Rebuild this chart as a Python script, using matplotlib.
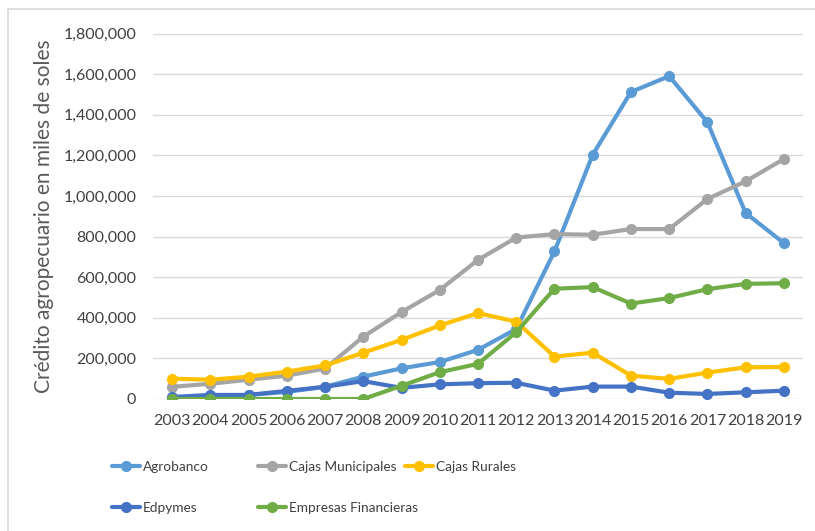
import matplotlib
matplotlib.use("Agg")
import matplotlib.pyplot as plt
from matplotlib.lines import Line2D
from matplotlib.ticker import FuncFormatter

years = [str(y) for y in range(2003, 2020)]

agrobanco = [5000, 15000, 20000, 35000, 60000, 110000, 151000, 182000, 242000, 345000,
             727000, 1203000, 1512000, 1590000, 1363000, 916000, 768000]
cajas_municipales = [60000, 75000, 95000, 115000, 150000, 307000, 428000, 537000, 685000, 795000,
                     812000, 809000, 837000, 837000, 985000, 1072000, 1182000]
cajas_rurales = [100000, 95000, 110000, 135000, 165000, 228000, 291000, 362000, 423000, 381000,
                 209000, 228000, 115000, 99000, 130000, 156000, 158000]
edpymes = [10000, 20000, 20000, 40000, 60000, 88000, 55000, 72000, 78000, 80000,
           41000, 61000, 61000, 31000, 25000, 33000, 41000]
empresas_financieras = [0, 0, 0, 0, 0, 0, 65000, 132000, 173000, 329000,
                        543000, 551000, 470000, 497000, 541000, 567000, 570000]

series = [
    ("Agrobanco", agrobanco, "#5B9BD5"),
    ("Cajas Municipales", cajas_municipales, "#A5A5A5"),
    ("Cajas Rurales", cajas_rurales, "#FFC000"),
    ("Edpymes", edpymes, "#4472C4"),
    ("Empresas Financieras", empresas_financieras, "#70AD47"),
]

plt.rcParams['font.family'] = ['Lato', 'DejaVu Sans']

fig = plt.figure(figsize=(8.15, 5.31), dpi=100)
ax = fig.add_axes([153/815, 1-399/531, 650/815, (399-33.5)/531])

x = list(range(len(years)))
handles = []
for name, vals, col in series:
    ax.plot(x, vals, color=col, lw=3.0, marker='o', markersize=7, zorder=3,
            solid_capstyle='round', solid_joinstyle='round')
    handles.append(Line2D([0], [0], color=col, lw=3.0, marker='o', markersize=7,
                          solid_capstyle='round', label=name))

ax.set_xlim(-0.5, len(years) - 0.5)
ax.set_ylim(0, 1800000)
ax.set_yticks(range(0, 1800001, 200000))
ax.yaxis.set_major_formatter(FuncFormatter(lambda v, p: f"{int(v):,}"))
ax.set_xticks(x)
ax.set_xticklabels(years)
ax.grid(axis='y', color='#D9D9D9', lw=1.0, zorder=0)
for s in ax.spines.values():
    s.set_visible(False)
ax.tick_params(axis='both', length=0, labelsize=11.5, colors='#404040')
ax.tick_params(axis='x', pad=11)
ax.tick_params(axis='y', pad=12)
ax.set_ylabel("Crédito agropecuario en miles de soles", fontsize=15, color='#595959')
ax.yaxis.set_label_coords(-0.152, 0.5)

# legend entries laid out row-wise as in the original
positions = [(112, 467), (258, 467), (405, 467), (112, 508), (258, 508)]
for h, (px, py) in zip(handles, positions):
    leg = fig.legend(handles=[h], loc='center left', bbox_to_anchor=(px/815, 1-py/531),
                     frameon=False, fontsize=10, handlelength=2.0, handletextpad=0.2,
                     borderaxespad=0, borderpad=0)
    for t in leg.get_texts():
        t.set_color('#404040')
        t.set_fontsize(9.8)

# outer chart frame (left and top edges visible)
fig.add_artist(Line2D([8/815, 8/815], [0, 1-9/531], color='#D9D9D9', lw=1.2, transform=fig.transFigure))
fig.add_artist(Line2D([8/815, 1], [1-9/531, 1-9/531], color='#D9D9D9', lw=1.2, transform=fig.transFigure))

fig.savefig("out.png", dpi=100, facecolor='white')
